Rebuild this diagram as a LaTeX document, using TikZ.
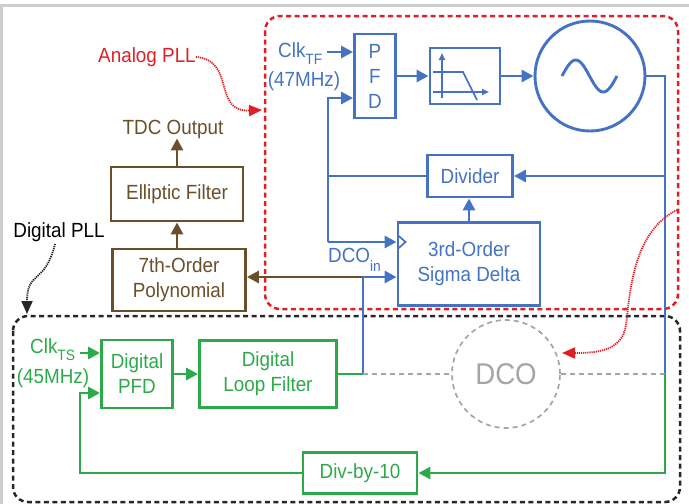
\documentclass[tikz,border=0pt]{standalone}
\usepackage{fontspec}
\setmainfont[FakeStretch=0.92]{Liberation Sans}
\usetikzlibrary{arrows.meta}
\definecolor{pllblue}{RGB}{68,114,196}
\definecolor{pllgreen}{RGB}{44,170,74}
\definecolor{tdcbrown}{RGB}{107,78,42}
\definecolor{pllred}{RGB}{222,32,38}
\definecolor{dcogray}{RGB}{165,165,165}
\definecolor{framegray}{RGB}{205,205,205}
\newcommand{\subtxt}[2]{\raisebox{#1}{\fontsize{15}{15}\selectfont #2}}

\begin{document}
\begin{tikzpicture}[x=1pt,y=-1pt,
		every node/.style={font=\fontsize{20.5}{25}\selectfont, inner sep=0pt, align=center},
		box/.style={draw, line width=2.9pt},
		wire/.style={line width=2.9pt},
		arr/.style={-{Triangle[length=12pt,width=12pt]}},
		dotarr/.style={line width=1.8pt, dash pattern=on 1.2pt off 0.9pt, -{Triangle[length=13pt,width=11pt]}},
		region/.style={line width=2.5pt, rounded corners=15pt, dash pattern=on 5pt off 3.5pt},
		ghost/.style={draw=dcogray, line width=1.7pt, dash pattern=on 5pt off 4pt}]
		\useasboundingbox (0,0) rectangle (689,504);
		\fill[framegray] (0,4) rectangle (689,7);
		\fill[framegray] (0,4) rectangle (2.5,504);
		
		% dashed regions
		\draw[region, pllred] (265,16) rectangle (678,309);
		\draw[region, black!85] (13,316) rectangle (680,502);
		
		% analog PLL
		\node[box, pllblue, minimum width=41pt, minimum height=84pt] (pfd) at (375,76) {P\\F\\D};
		\node[box, pllblue, minimum width=70pt, minimum height=56pt] (lpf) at (465,76) {};
		\node[box, pllblue, circle, minimum size=110pt] (vco) at (590,76) {};
		\node[box, pllblue, minimum width=85pt, minimum height=42pt] (divider) at (470,176) {Divider};
		\node[box, pllblue, minimum width=142pt, minimum height=83pt] (sdm) at (469,264) {3rd-Order\\Sigma Delta};
		\node[pllblue, anchor=base west] (clktf) at (278,57) {Clk\subtxt{-7pt}{TF}};
		\node[pllblue] (clktfmhz) at (304,81) {(47MHz)};
		\node[pllblue, anchor=base west] (dcoinlbl) at (328,262) {DCO\subtxt{-9pt}{in}};
		
		% filter and oscillator symbols
		\draw[pllblue, line width=1.7pt, -{Triangle[length=7pt,width=6pt]}] (442,98) -- (442,53);
		\draw[pllblue, line width=1.7pt, -{Triangle[length=7pt,width=6pt]}] (433,92) -- (489,92);
		\draw[pllblue, line width=1.7pt] (433,72) -- (463,72) -- (477,100);
		\draw[pllblue, line width=2.9pt] plot[domain=0:360, samples=40] ({562+\x/360*55},{76-16*sin(\x)});
		
		% TDC chain
		\node[tdcbrown] (tdc) at (173,129) {TDC Output};
		\node[box, tdcbrown, minimum width=132pt, minimum height=54pt] (ellip) at (177,194) {Elliptic Filter};
		\node[box, tdcbrown, minimum width=133pt, minimum height=62pt] (poly) at (179,280) {7th-Order\\Polynomial};
		
		% digital PLL
		\node[box, pllgreen, minimum width=71pt, minimum height=68pt] (dpfd) at (137,374) {Digital\\PFD};
		\node[box, pllgreen, minimum width=137pt, minimum height=67pt] (dlf) at (268,374) {Digital\\Loop Filter};
		\node[box, pllgreen, minimum width=114pt, minimum height=41pt] (div10) at (360,473) {Div-by-10};
		\node[ghost, circle, minimum size=108pt, text=dcogray, font=\fontsize{30}{30}\selectfont] (dco) at (506,374) {DCO};
		\node[pllgreen, anchor=base west] (clkts) at (30,353) {Clk\subtxt{-7pt}{TS}};
		\node[pllgreen] (clktsmhz) at (53,378) {(45MHz)};
		
		% region labels
		\node[pllred] (apll) at (147,57) {Analog PLL};
		\node (dpll) at (59,232) {Digital PLL};
		
		% blue wires
		\coordinate (tfin) at (327,52);
		\coordinate (vcor) at (665,76);
		\coordinate (dcor) at (665,374);
		\coordinate (fbtop) at (328,98);
		\coordinate (fbbot) at (328,242);
		\coordinate (dcoin) at (363,277);
		\coordinate (dlfout) at (363,374);
		\draw[wire, arr, pllblue] (tfin) -- (tfin -| pfd.west);
		\draw[wire, arr, pllblue] (pfd.east) -- (lpf.west);
		\draw[wire, arr, pllblue] (lpf.east) -- (vco.west);
		\draw[wire, pllblue] (vco.east) -- (vcor) -- (dcor);
		\draw[wire, arr, pllblue] (divider.east -| vcor) -- (divider.east);
		\draw[wire, pllblue] (divider.west) -- (divider.west -| fbtop);
		\draw[wire, arr, pllblue] (fbbot) -- (fbtop) -- (fbtop -| pfd.west);
		\draw[wire, arr, pllblue] (fbbot) -- (fbbot -| sdm.west);
		\draw[pllblue, line width=1.7pt] (fbbot -| sdm.west) ++(1,-7) -- ++(8,7) -- ++(-8,7);
		\draw[wire, arr, pllblue] (sdm.north) -- (sdm.north |- divider.south);
		\draw[wire, arr, tdcbrown] (dcoin) -- (dcoin -| poly.east);
		\draw[wire, arr, pllblue] (dcoin) -- (dcoin -| sdm.west);
		\draw[wire, pllblue] (dlfout) -- (dcoin);
		
		% brown wires
		\draw[wire, arr, tdcbrown] (ellip.south |- poly.north) -- (ellip.south);
		\draw[wire, arr, tdcbrown] (ellip.north) -- (ellip.north |- tdc.south);
		
		% green wires
		\coordinate (tsin) at (80,353);
		\coordinate (fbleft) at (80,393);
		\draw[wire, pllgreen] (dlf.east) -- (dlfout);
		\draw[ghost, line width=1.2pt] (dlfout) -- (dco.west);
		\draw[ghost, line width=1.2pt] (dco.east) -- (dcor);
		\draw[wire, arr, pllgreen] (tsin) -- (tsin -| dpfd.west);
		\draw[wire, arr, pllgreen] (dpfd.east) -- (dlf.west);
		\draw[wire, arr, pllgreen] (dcor) -- (dcor |- div10.east) -- (div10.east);
		\draw[wire, arr, pllgreen] (div10.west) -| (fbleft) -- (fbleft -| dpfd.west);
		
		% pointers
		\draw[dotarr, pllred] (apll.east) .. controls (236,60) and (212,112) .. (262,110);
		\draw[dotarr, pllred] (677,210) .. controls (632,232) and (630,295) .. (626,325) .. controls (622,350) and (600,353) .. (562,353);
		\draw[dotarr, black!85] (55,244) .. controls (45,285) and (27,270) .. (27,314);
	\end{tikzpicture}
\end{document}
